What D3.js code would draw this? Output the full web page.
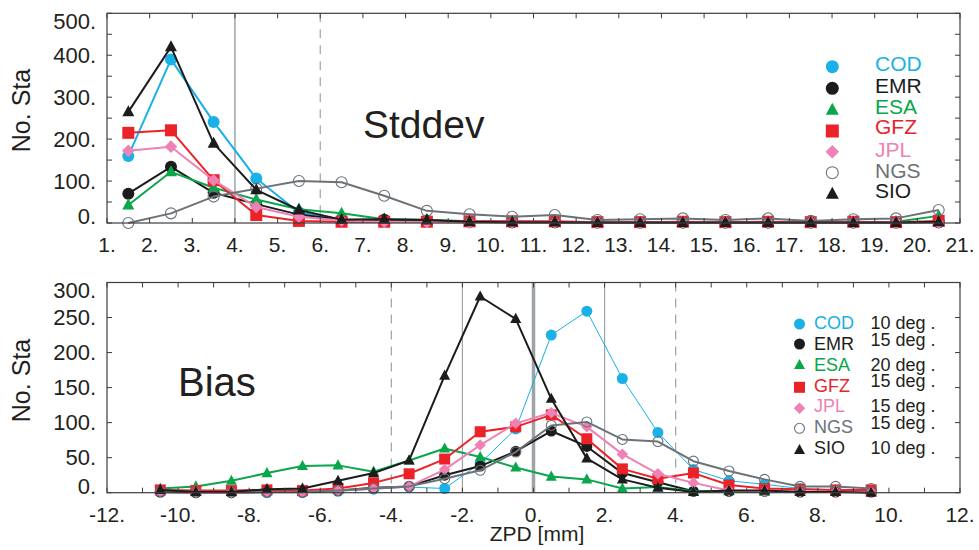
<!DOCTYPE html>
<html><head><meta charset="utf-8">
<script src="https://cdn.jsdelivr.net/npm/d3@7/dist/d3.min.js"></script>
<style>
body{margin:0;background:#fff}
svg{display:block}
text{font-family:"Liberation Sans",Arial,Helvetica,sans-serif;fill:#231f20}
</style>
</head><body>
<svg id="c" width="979" height="550"></svg>
<script>
// ---------- data ----------
const centers = ["COD","EMR","ESA","GFZ","JPL","NGS","SIO"];
const elevations = ["10 deg .","15 deg .","20 deg .","15 deg .","15 deg .","15 deg .","10 deg ."];

const stdX = [1.5,2.5,3.5,4.5,5.5,6.5,7.5,8.5,9.5,10.5,11.5,12.5,13.5,14.5,15.5,16.5,17.5,18.5,19.5,20.5];
const stdCOD = [160,390,241,106,25,8,5,4,3,2,2,2,1,1,1,1,1,1,1,2];
const stdEMR = [70,134,72,45,20,8,8,6,3,2,2,1,1,1,1,1,1,1,1,2];
const stdESA = [43,122,84,56,33,23,9,8,4,3,2,2,2,2,2,2,2,2,3,17];
const stdGFZ = [215,221,102,19,5,3,3,3,4,4,4,2,2,3,2,3,2,3,2,5];
const stdJPL = [172,182,102,38,15,6,3,2,1,1,1,1,1,1,1,1,1,1,1,0];
const stdNGS = [0,23,63,82,100,97,65,29,21,15,19,7,9,11,7,11,5,9,11,31];
const stdSIO = [265,420,190,79,31,8,9,7,3,2,2,1,1,1,1,1,1,1,1,3];

const biasX = [-10.5,-9.5,-8.5,-7.5,-6.5,-5.5,-4.5,-3.5,-2.5,-1.5,-0.5,0.5,1.5,2.5,3.5,4.5,5.5,6.5,7.5,8.5,9.5];
const biasCOD = [1,0,0,0,0,2,5,8,6,42,91,225,259,163,86,33,17,12,6,4,3];
const biasEMR = [1,0,0,1,1,3,7,9,25,38,59,88,66,28,15,2,2,2,1,1,1];
const biasESA = [6,9,17,28,38,39,30,46,63,51,36,23,19,6,8,2,2,1,1,1,1];
const biasGFZ = [4,3,3,4,3,6,14,27,48,87,94,111,77,34,20,28,11,6,5,4,4];
const biasJPL = [1,0,0,1,1,3,6,9,33,68,99,114,94,55,27,14,3,2,1,1,1];
const biasNGS = [2,1,1,1,1,3,6,9,20,32,58,96,101,76,73,45,31,19,9,9,6];
const biasSIO = [4,1,1,5,6,17,28,46,167,280,248,134,49,19,7,1,3,3,1,1,0];

const stdXTicks = [1,2,3,4,5,6,7,8,9,10,11,12,13,14,15,16,17,18,19,20,21];
const stdXLabels = ["1.","2.","3.","4.","5.","6.","7.","8.","9.","10.","11.","12.","13.","14.","15.","16.","17.","18.","19.","20.","21."];
const stdYTicks = [0,100,200,300,400,500];
const stdYLabels = ["0.","100.","200.","300.","400.","500."];
const stdYMinor = [50,150,250,350,450];

const biasXTicks = [-12,-10,-8,-6,-4,-2,0,2,4,6,8,10,12];
const biasXLabels = ["-12.","-10.","-8.","-6.","-4.","-2.","0.","2.","4.","6.","8.","10.","12."];
const biasXMinor = [-11,-9,-7,-5,-3,-1,1,3,5,7,9,11];
const biasYTicks = [0,50,100,150,200,250,300];
const biasYLabels = ["0.","50.","100.","150.","200.","250.","300."];

const stdRefLines = [{x:4,dash:false,w:1.5},{x:6,dash:true,w:1.2}];
const biasRefLines = [{x:-4,dash:true,w:1.2},{x:-2,dash:false,w:1.2},{x:0,dash:false,w:3.5},{x:2,dash:false,w:1.2},{x:4,dash:true,w:1.2}];

// ---------- styles ----------
const style = {
  COD:{color:"#1ab0e8", shape:"circle", fill:true},
  EMR:{color:"#1c1c1c", shape:"circle", fill:true},
  ESA:{color:"#0aa64b", shape:"triangle", fill:true},
  GFZ:{color:"#ec2229", shape:"square", fill:true},
  JPL:{color:"#ef82b5", shape:"diamond", fill:true},
  NGS:{color:"#6b7278", shape:"circle", fill:false},
  SIO:{color:"#1c1c1c", shape:"triangle", fill:true}
};
const legendTextColor = {COD:"#1ab0e8",EMR:"#1c1c1c",ESA:"#0aa64b",GFZ:"#ec2229",JPL:"#ef82b5",NGS:"#6b7278",SIO:"#1c1c1c"};

const svg = d3.select("#c");

function marker(g, shape, cx, cy, s, color, fill) {
  const h = s/2;
  let el;
  if (shape === "circle") {
    el = g.append("circle").attr("cx",cx).attr("cy",cy).attr("r", fill ? h : h-0.5);
  } else if (shape === "square") {
    el = g.append("rect").attr("x",cx-h).attr("y",cy-h).attr("width",s).attr("height",s);
  } else if (shape === "triangle") {
    const th = s*0.92;
    el = g.append("path").attr("d",`M${cx},${cy-th*0.6}L${cx+h},${cy+th*0.4}L${cx-h},${cy+th*0.4}Z`);
  } else if (shape === "diamond") {
    el = g.append("path").attr("d",`M${cx},${cy-h*1.05}L${cx+h*1.05},${cy}L${cx},${cy+h*1.05}L${cx-h*1.05},${cy}Z`);
  }
  if (fill) el.attr("fill",color).attr("stroke","none");
  else el.attr("fill","#fff").attr("fill-opacity",0).attr("stroke",color).attr("stroke-width",1.1);
}

function panel(cfg) {
  const {x, y, xs, series, xTicks, xLabels, xMinor, yTicks, yLabels, yMinor, refLines, msize, lw} = cfg;
  const g = svg.append("g");
  const [L,R] = x.range(); const [B,T] = y.range();
  refLines.forEach(r => {
    g.append("line").attr("x1",x(r.x)).attr("x2",x(r.x)).attr("y1",T).attr("y2",B)
      .attr("stroke", "#9ea3a8").attr("stroke-width", r.w)
      .attr("stroke-dasharray", r.dash ? "9,7" : null);
  });
  const line = d3.line().x(d=>x(d[0])).y(d=>y(d[1]));
  series.forEach(sr => {
    const st = style[sr.name];
    const pts = xs.map((xv,i)=>[xv, sr.values[i]]);
    g.append("path").attr("d", line(pts)).attr("fill","none")
      .attr("stroke", st.color).attr("stroke-width", (lw[sr.name]||2)).attr("stroke-linejoin","round");
    const mg = g.append("g");
    pts.forEach(p => marker(mg, st.shape, x(p[0]), y(p[1]), msize, st.color, st.fill));
  });
  g.append("rect").attr("x",L).attr("y",T).attr("width",R-L).attr("height",B-T)
    .attr("fill","none").attr("stroke","#3c3c3c").attr("stroke-width",1.2);
  const tk = 5;
  xTicks.concat(xMinor).forEach(v => {
    g.append("line").attr("x1",x(v)).attr("x2",x(v)).attr("y1",B).attr("y2",B-tk).attr("stroke","#3c3c3c");
    g.append("line").attr("x1",x(v)).attr("x2",x(v)).attr("y1",T).attr("y2",T+tk).attr("stroke","#3c3c3c");
  });
  yTicks.concat(yMinor).forEach(v => {
    g.append("line").attr("x1",L).attr("x2",L+tk).attr("y1",y(v)).attr("y2",y(v)).attr("stroke","#3c3c3c");
    g.append("line").attr("x1",R).attr("x2",R-tk).attr("y1",y(v)).attr("y2",y(v)).attr("stroke","#3c3c3c");
  });
  xTicks.forEach((v,i) => {
    g.append("text").attr("x",x(v)).attr("y",B+29).attr("text-anchor","middle")
      .attr("font-size",21).text(xLabels[i]);
  });
  yTicks.forEach((v,i) => {
    const cy = Math.max(T+8, Math.min(B-6.5, y(v)));
    g.append("text").attr("x",L-11).attr("y",cy+7.8).attr("text-anchor","end")
      .attr("font-size",22).text(yLabels[i]);
  });
  return g;
}

// ---------- top panel ----------
const xTop = d3.scaleLinear().domain([1,21]).range([107,960]);
const yTop = d3.scaleLinear().domain([0,500]).range([223,13.3]);
panel({
  x:xTop, y:yTop, xs:stdX,
  series:[
    {name:"COD",values:stdCOD},{name:"EMR",values:stdEMR},{name:"ESA",values:stdESA},
    {name:"GFZ",values:stdGFZ},{name:"JPL",values:stdJPL},{name:"NGS",values:stdNGS},{name:"SIO",values:stdSIO}],
  xTicks:stdXTicks, xLabels:stdXLabels, xMinor:[],
  yTicks:stdYTicks, yLabels:stdYLabels, yMinor:stdYMinor,
  refLines:stdRefLines, msize:12, lw:{COD:2,EMR:2,ESA:2,GFZ:2,JPL:2,NGS:2,SIO:2}
});

// ---------- bottom panel ----------
const xBot = d3.scaleLinear().domain([-12,12]).range([107,960]);
const yBot = d3.scaleLinear().domain([0,300]).range([492.7,282.5]);
panel({
  x:xBot, y:yBot, xs:biasX,
  series:[
    {name:"COD",values:biasCOD},{name:"EMR",values:biasEMR},{name:"ESA",values:biasESA},
    {name:"GFZ",values:biasGFZ},{name:"JPL",values:biasJPL},{name:"NGS",values:biasNGS},{name:"SIO",values:biasSIO}],
  xTicks:biasXTicks, xLabels:biasXLabels, xMinor:biasXMinor,
  yTicks:biasYTicks, yLabels:biasYLabels, yMinor:[],
  refLines:biasRefLines, msize:11, lw:{COD:1,EMR:2,ESA:2,GFZ:2,JPL:2,NGS:2,SIO:2}
});

// ---------- titles ----------
svg.append("text").attr("transform","translate(30,110.5) rotate(-90)").attr("text-anchor","middle")
  .attr("font-size",25).text("No. Sta");
svg.append("text").attr("transform","translate(30,380.5) rotate(-90)").attr("text-anchor","middle")
  .attr("font-size",25).text("No. Sta");
svg.append("text").attr("x",363).attr("y",138).attr("font-size",39).text("Stddev");
svg.append("text").attr("x",178).attr("y",396).attr("font-size",40).text("Bias");
svg.append("text").attr("x",537).attr("y",541).attr("text-anchor","middle").attr("font-size",21).text("ZPD [mm]");

// ---------- legends ----------
const topLegMarkY = [66.7,88.3,110,131,151.7,172.7,194];
const topLegTextY = [63.3,85,106,126.7,149.3,170,190.7];
const lgTop = svg.append("g");
centers.forEach((c,i) => {
  const st = style[c];
  marker(lgTop, st.shape, 832.3, topLegMarkY[i], 13, st.color, st.fill);
  lgTop.append("text").attr("x",875).attr("y",topLegTextY[i]+7.5).attr("font-size",21)
    .style("fill",legendTextColor[c]).text(c);
});

const botLegMarkY = [324,344,365,387.3,408.3,428.3,450];
const botLegBase = [329,350,371,391.5,411.5,433,454];
const botDegBase = [329,346,371,387,411.5,429,454];
const lgBot = svg.append("g");
centers.forEach((c,i) => {
  const st = style[c];
  marker(lgBot, st.shape, 799.5, botLegMarkY[i], 11, st.color, st.fill);
  lgBot.append("text").attr("x",814).attr("y",botLegBase[i]).attr("font-size",18)
    .style("fill",legendTextColor[c]).text(c);
  lgBot.append("text").attr("x",870.5).attr("y",botDegBase[i]).attr("font-size",18)
    .text(elevations[i]);
});
</script>
</body></html>
